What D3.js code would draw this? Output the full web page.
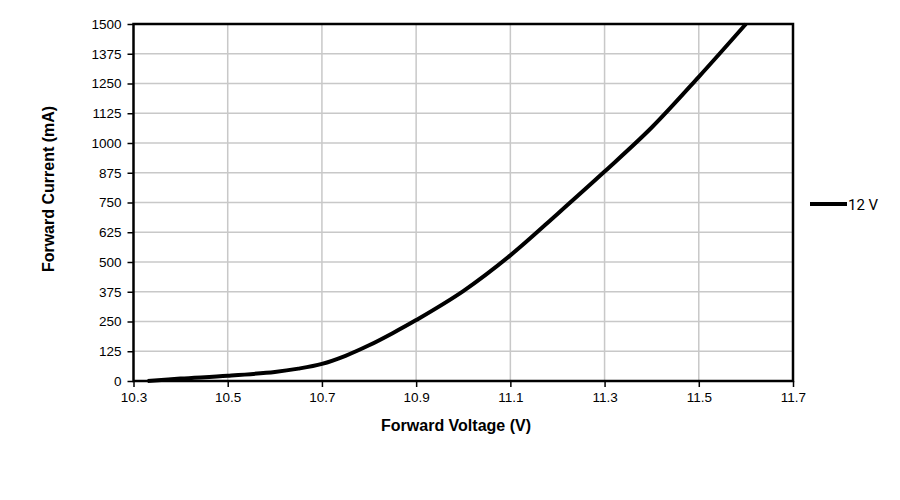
<!doctype html>
<html>
<head>
<meta charset="utf-8"/>
<style>
    html, body { margin: 0; padding: 0; background: #fff; }
    svg { display: block; }
    .tick text { font-family: "Liberation Sans", Arial, sans-serif; font-size: 13.5px; fill: #000; }
    .title { font-family: "Liberation Sans", Arial, sans-serif; font-size: 16px; font-weight: bold; fill: #000; }
    .legend text { font-family: Roboto, "Noto Sans", sans-serif; font-size: 15px; fill: #000; }
</style>
<script src="https://d3js.org/d3.v7.min.js"></script>
</head>
<body>
<svg width="900" height="500"></svg>
<script>
    // values
    var voltage = [10.33, 10.4, 10.5, 10.6, 10.65, 10.7, 10.75, 10.8, 10.85, 10.9, 11.0, 11.1, 11.2, 11.3, 11.4, 11.5, 11.6];
    var current = [0, 10, 22, 38, 52, 72, 106, 150, 201, 256, 378, 528, 702, 880, 1065, 1278, 1500];
    var xTicks = [10.3, 10.5, 10.7, 10.9, 11.1, 11.3, 11.5, 11.7];
    var yTicks = [0, 125, 250, 375, 500, 625, 750, 875, 1000, 1125, 1250, 1375, 1500];
    var seriesName = "12 V";

    var svg = d3.select("svg");
    var plot = {left: 133.5, right: 793, top: 24, bottom: 381};

    var x = d3.scaleLinear().domain([10.3, 11.7]).range([plot.left, plot.right]);
    var y = d3.scaleLinear().domain([0, 1500]).range([plot.bottom, plot.top]);

    // grid
    var grid = svg.append("g").attr("stroke", "#c8c8c8").attr("stroke-width", 1.5);
    grid.selectAll("line.v").data(xTicks.slice(1, -1)).enter().append("line")
        .attr("x1", function(d) { return x(d); }).attr("x2", function(d) { return x(d); })
        .attr("y1", plot.top).attr("y2", plot.bottom);
    grid.selectAll("line.h").data(yTicks.slice(1, -1)).enter().append("line")
        .attr("x1", plot.left).attr("x2", plot.right)
        .attr("y1", function(d) { return y(d); }).attr("y2", function(d) { return y(d); });

    // axes
    var xAxis = svg.append("g")
        .attr("transform", "translate(0," + plot.bottom + ")")
        .call(d3.axisBottom(x).tickValues(xTicks).tickSize(6).tickPadding(5).tickFormat(d3.format(".1f")));
    var yAxis = svg.append("g")
        .attr("transform", "translate(" + plot.left + ",0)")
        .call(d3.axisLeft(y).tickValues(yTicks).tickSize(6).tickPadding(6).tickFormat(d3.format("d")));
    [xAxis, yAxis].forEach(function(a) {
        a.select(".domain").remove();
        a.selectAll(".tick line").attr("stroke", "#000").attr("stroke-width", 1.5);
    });

    // frame
    svg.append("rect")
        .attr("x", plot.left).attr("y", plot.top)
        .attr("width", plot.right - plot.left).attr("height", plot.bottom - plot.top)
        .attr("fill", "none").attr("stroke", "#000").attr("stroke-width", 2.5);

    // curve
    var pts = voltage.map(function(v, i) { return [v, current[i]]; });
    var line = d3.line()
        .x(function(d) { return x(d[0]); })
        .y(function(d) { return y(d[1]); })
        .curve(d3.curveCatmullRom);
    svg.append("path")
        .datum(pts)
        .attr("d", line)
        .attr("fill", "none")
        .attr("stroke", "#000")
        .attr("stroke-width", 4)
        .attr("stroke-linejoin", "round");

    // titles
    svg.append("text").attr("class", "title")
        .attr("x", 456).attr("y", 431)
        .attr("text-anchor", "middle")
        .text("Forward Voltage (V)");
    svg.append("text").attr("class", "title")
        .attr("transform", "translate(54,189) rotate(-90)")
        .attr("text-anchor", "middle")
        .text("Forward Current (mA)");

    // legend
    var lg = svg.append("g").attr("class", "legend");
    lg.append("line")
        .attr("x1", 810).attr("x2", 847).attr("y1", 204).attr("y2", 204)
        .attr("stroke", "#000").attr("stroke-width", 4);
    lg.append("text").attr("x", 848).attr("y", 209.5).text(seriesName);
</script>
</body>
</html>
